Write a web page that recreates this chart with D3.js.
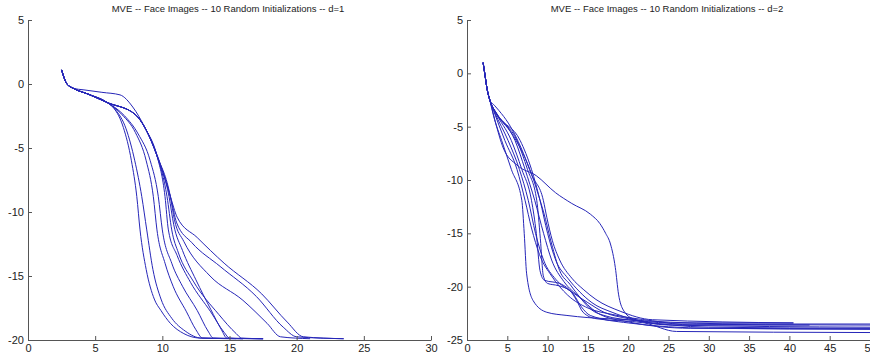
<!DOCTYPE html>
<html>
<head>
<meta charset="utf-8">
<script src="https://cdn.jsdelivr.net/npm/d3@7"></script>
<style>
  body { margin: 0; background: #fff; }
  svg { display: block; }
  .tick text { font-family: "Liberation Sans", Arial, sans-serif; font-size: 11px; fill: #222; }
  .domain, .tick line { stroke: #555; }
</style>
</head>
<body>
<div id="area"></div>
<script>
// ---- data: objective value per iteration, 10 random starts, d=1 ----
var titleD1 = "MVE -- Face Images -- 10 Random Initializations -- d=1";
var xTicksD1 = [0, 5, 10, 15, 20, 25, 30];
var yTicksD1 = [5, 0, -5, -10, -15, -20];

var startD1 = [[2.5, 1.1], [2.9, 0], [3.4, -0.35]];
var d1Run1 = [[4.5, -0.8], [5.9, -1.45], [6.4, -1.9], [7.1, -3.4], [7.7, -6], [8.1, -8.8], [8.34, -11.4], [8.8, -14.5], [9.4, -16.8], [9.9, -17.7], [10.6, -18.7], [11.6, -19.5], [12.8, -19.85], [16, -19.9]];
var d1Run2 = [[4.5, -0.8], [5.9, -1.45], [6.5, -2.0], [7.3, -3.5], [7.95, -6], [8.47, -8.8], [8.84, -11.4], [9.3, -14.5], [9.9, -16.8], [10.7, -18.3], [11.7, -19.3], [12.9, -19.85], [17.5, -19.9]];
var d1Run3 = [[4.5, -0.8], [5.9, -1.45], [7.0, -2.4], [8.0, -3.8], [8.8, -6], [9.33, -8.8], [9.6, -11.4], [10.2, -14], [10.8, -15.8], [11.8, -17.8], [12.5, -19.2], [13.0, -19.85], [15.5, -19.9]];
var d1Run4 = [[4.5, -0.8], [5.9, -1.45], [7.2, -2.5], [8.2, -3.9], [9.1, -6], [9.7, -8.8], [10.0, -11.4], [10.7, -14], [11.5, -15.8], [12.6, -17.7], [13.4, -19.3], [13.8, -19.85], [17.5, -19.9]];
var d1Run5 = [[4.5, -0.8], [5.9, -1.45], [7.97, -2.37], [8.8, -3.6], [9.6, -5.6], [10.2, -8.8], [10.45, -11.4], [11.1, -13.4], [12.1, -15.5], [13.6, -17.8], [14.6, -19.4], [15.0, -19.85], [17.5, -19.9]];
var d1Run6 = [[4.5, -0.8], [5.9, -1.45], [7.97, -2.37], [8.8, -3.6], [9.6, -5.6], [10.35, -8.8], [10.7, -11.4], [11.2, -13.2], [12.3, -15.4], [14.2, -18.0], [15.5, -19.5], [15.9, -19.85], [17.5, -19.9]];
var d1Run7 = [[4.5, -0.8], [5.9, -1.45], [7.97, -2.37], [8.8, -3.6], [9.6, -5.6], [10.5, -8.8], [10.85, -11.0], [11.5, -13.0], [12.5, -15.3], [13.6, -17.6], [14.4, -19.2], [14.8, -19.85], [16, -19.9]];
var d1Run8 = [[4.5, -0.8], [5.9, -1.45], [7.97, -2.37], [8.8, -3.6], [9.6, -5.6], [10.6, -8.8], [10.9, -10.6], [11.6, -12.3], [13.55, -15.0], [16.0, -16.9], [17.8, -18.7], [18.8, -19.75], [21, -19.9]];
var d1Run9 = [[4.5, -0.8], [5.9, -1.45], [7.97, -2.37], [8.8, -3.6], [9.6, -5.6], [10.6, -8.8], [11.07, -10.85], [12.2, -12.4], [14.3, -14.25], [17.0, -16.6], [19.0, -19.0], [20.0, -19.75], [23.5, -19.9]];
var d1Run10 = [[4.1, -0.45], [5.5, -0.65], [6.85, -0.85], [7.8, -1.8], [8.7, -3.4], [9.7, -5.8], [10.6, -8.8], [11.1, -10.4], [12.6, -12.0], [14.6, -14.0], [17.4, -16.4], [19.3, -18.6], [20.5, -19.75], [23.5, -19.9]];

// ---- data: d=2 ----
var titleD2 = "MVE -- Face Images -- 10 Random Initializations -- d=2";
var xTicksD2 = [0, 5, 10, 15, 20, 25, 30, 35, 40, 45, 50];
var yTicksD2 = [5, 0, -5, -10, -15, -20, -25];

var startD2 = [[2, 1.0], [2.2, 0], [2.5, -1.5], [2.85, -2.55]];
var d2Run1 = [[3.3, -4.0], [4.3, -6.3], [5.5, -9], [6.8, -11.9], [7.1, -15], [7.4, -18.8], [8.2, -21.3], [9.9, -22.4], [12.4, -22.7], [15, -22.9], [20, -23.1], [25, -23.4], [40.5, -23.4]];
var d2Run2 = [[3.3, -3.5], [4.7, -6.3], [6.2, -9], [7.2, -11.9], [8.0, -14.5], [9, -17], [10.5, -19], [12.5, -20.8], [15, -22], [18, -22.6], [23, -23.2], [28, -23.6], [42.5, -23.6]];
var d2Run3 = [[3.4, -3.6], [5.1, -6.3], [6.5, -9], [7.6, -11.9], [8.5, -15], [9.5, -17.5], [11, -19.3], [13, -20.5], [15, -21.5], [17, -22.4], [20, -23], [25, -23.6], [50, -23.8]];
var d2Run4 = [[3.5, -3.6], [5.5, -6.3], [6.8, -9], [8.0, -11.9], [8.6, -15], [9.06, -18.5], [9.6, -19.4], [11.5, -19.7], [13.2, -20.7], [14.2, -21.9], [15.3, -22.7], [20, -23.4], [30, -23.9], [50, -24]];
var d2Run5 = [[3.6, -3.7], [5.96, -6.3], [7.2, -9], [8.4, -11.9], [9.5, -15], [10.5, -17.5], [12, -19.5], [14, -21], [16.5, -22.6], [20, -23.3], [27.7, -23.9], [50, -23.95]];
var d2Run6 = [[3.7, -3.8], [6.2, -6.3], [7.5, -9], [8.65, -11.9], [9.1, -15.5], [9.47, -19.0], [10, -19.7], [11.3, -19.9], [12.8, -20.4], [13.6, -21.3], [14.4, -22.4], [16, -23], [22, -23.4], [26, -24.2], [50, -24.3]];
var d2Run7 = [[3.8, -3.9], [6.6, -6.3], [8, -9], [9.06, -11.9], [10, -15], [11, -17.5], [12.5, -19.2], [14, -20.5], [15.5, -21.5], [18, -22.4], [22, -23.2], [35, -23.5], [50, -23.5]];
var d2Run8 = [[3.4, -3.0], [5.7, -5.4], [7, -7.5], [8, -9.5], [9.47, -11.9], [9.9, -13.5], [10.6, -15.7], [11.5, -17.5], [13, -19.2], [14.5, -20.3], [16, -21.2], [19, -22.3], [23, -23.1], [40.5, -23.4]];
var d2Run9 = [[3.2, -3.2], [5.0, -5.0], [6.6, -7], [7.8, -9], [8.9, -11.5], [9.5, -13], [10.5, -16], [11.5, -18.5], [12.8, -19.8], [14, -21], [15.5, -22.2], [17, -22.7], [21, -23.2], [30, -23.8], [50, -23.9]];
var d2Run10 = [[3.5, -4.5], [4.5, -7.0], [6.2, -8.6], [8.6, -9.6], [11, -11.2], [13, -12.2], [15.3, -13.2], [16.5, -14.1], [17.2, -15], [17.8, -16], [18.4, -18.2], [18.8, -20.7], [19.4, -22.2], [20.6, -23.0], [24, -23.5], [50, -23.6]];

var runsD1 = [d1Run1, d1Run2, d1Run3, d1Run4, d1Run5, d1Run6, d1Run7, d1Run8, d1Run9, d1Run10]
  .map(function (r) { return startD1.concat(r); });
var runsD2 = [d2Run1, d2Run2, d2Run3, d2Run4, d2Run5, d2Run6, d2Run7, d2Run8, d2Run9, d2Run10]
  .map(function (r) { return startD2.concat(r); });

var svg = d3.select("#area")
  .append("svg")
  .attr("width", 870)
  .attr("height", 360);

function drawPanel(opts) {
  var xScale = d3.scaleLinear().domain(opts.xDomain).range([opts.left, opts.left + 403]);
  var yScale = d3.scaleLinear().domain(opts.yDomain).range([340, 20]);

  var g = svg.append("g");

  g.append("text")
    .attr("x", opts.left + 200)
    .attr("y", 12)
    .attr("text-anchor", "middle")
    .style("font-family", "'Liberation Sans', Arial, sans-serif")
    .style("font-size", "9.5px")
    .style("fill", "#222")
    .text(opts.title);

  var line = d3.line()
    .x(function (d) { return xScale(d[0]); })
    .y(function (d) { return yScale(d[1]); })
    .curve(d3.curveMonotoneX);

  g.selectAll("path.run")
    .data(opts.runs)
    .enter()
    .append("path")
    .attr("class", "run")
    .attr("d", line)
    .attr("fill", "none")
    .attr("stroke", "#2626b8")
    .attr("stroke-width", 1);

  // plain hyphen for negatives, like the original
  var fmt = function (d) { return String(d); };

  g.append("g")
    .attr("transform", "translate(0,340)")
    .call(d3.axisBottom(xScale).tickValues(opts.xTicks).tickFormat(fmt).tickSize(-4).tickSizeOuter(0).tickPadding(4));

  g.append("g")
    .attr("transform", "translate(" + opts.left + ",0)")
    .call(d3.axisLeft(yScale).tickValues(opts.yTicks).tickFormat(fmt).tickSize(-4).tickSizeOuter(0).tickPadding(4));
}

drawPanel({ title: titleD1, runs: runsD1, left: 28, xDomain: [0, 30], yDomain: [-20, 5], xTicks: xTicksD1, yTicks: yTicksD1 });
drawPanel({ title: titleD2, runs: runsD2, left: 467, xDomain: [0, 50], yDomain: [-25, 5], xTicks: xTicksD2, yTicks: yTicksD2 });
</script>
</body>
</html>
